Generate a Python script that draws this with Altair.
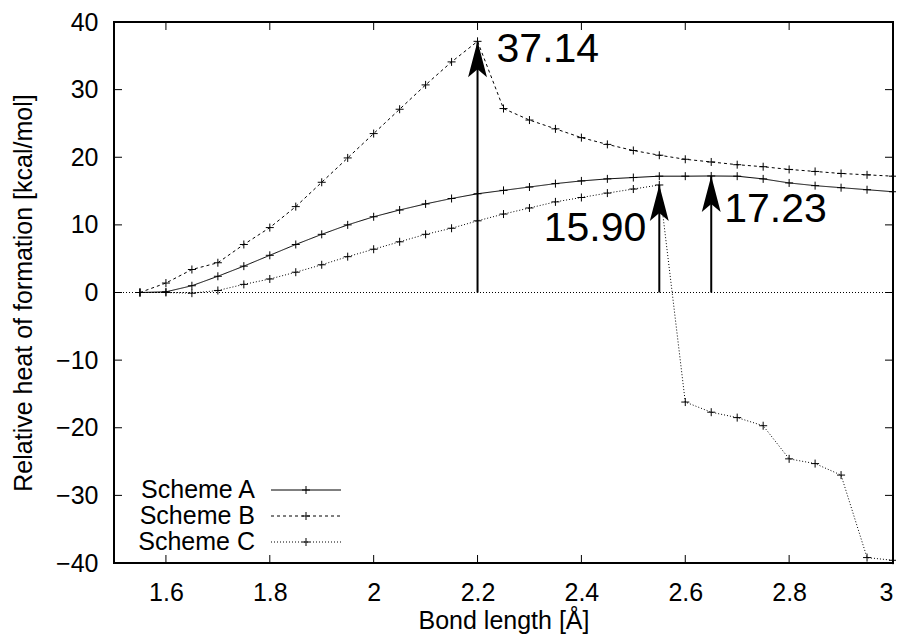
import altair as alt
import pandas as pd

# ---- data ----
bond = [1.55, 1.60, 1.65, 1.70, 1.75, 1.80, 1.85, 1.90, 1.95, 2.00,
        2.05, 2.10, 2.15, 2.20, 2.25, 2.30, 2.35, 2.40, 2.45, 2.50,
        2.55, 2.60, 2.65, 2.70, 2.75, 2.80, 2.85, 2.90, 2.95, 3.00]
scheme_a = [0.0, 0.1, 1.0, 2.4, 3.9, 5.5, 7.1, 8.6, 10.0, 11.2,
            12.2, 13.1, 13.9, 14.6, 15.1, 15.6, 16.1, 16.5, 16.8, 17.0,
            17.2, 17.2, 17.23, 17.2, 16.8, 16.2, 15.8, 15.5, 15.2, 14.9]
scheme_b = [0.0, 1.4, 3.4, 4.4, 7.1, 9.6, 12.7, 16.3, 19.9, 23.5,
            27.1, 30.7, 34.1, 37.14, 27.2, 25.5, 24.2, 22.9, 21.9, 21.0,
            20.3, 19.7, 19.3, 18.9, 18.6, 18.2, 17.9, 17.6, 17.4, 17.2]
scheme_c = [0.0, 0.0, -0.1, 0.3, 1.2, 2.0, 3.0, 4.1, 5.3, 6.4,
            7.5, 8.6, 9.5, 10.6, 11.6, 12.5, 13.4, 14.05, 14.7, 15.3,
            15.90, -16.2, -17.7, -18.5, -19.7, -24.6, -25.3, -27.0, -39.2, -39.6]
schemes = ["Scheme A", "Scheme B", "Scheme C"]

arrow_x = [2.20, 2.55, 2.65]
arrow_top = [37.14, 15.90, 17.23]

x_ticks = [1.6, 1.8, 2.0, 2.2, 2.4, 2.6, 2.8, 3.0]
y_ticks = [-40, -30, -20, -10, 0, 10, 20, 30, 40]

# ---- layout ----
W, H = 779, 541
FONT = "Liberation Sans"
TICK = 8
dashes = {"Scheme A": [1, 0], "Scheme B": [3, 3], "Scheme C": [1, 2]}

rows = []
for name, vals in zip(schemes, [scheme_a, scheme_b, scheme_c]):
    for xv, yv in zip(bond, vals):
        rows.append({"bond": xv, "energy": yv, "scheme": name})
df = pd.DataFrame(rows)
arrows = pd.DataFrame({"bond": arrow_x, "energy": arrow_top,
                       "label": [f"{v:.2f}" for v in arrow_top]})

xscale = alt.Scale(domain=[1.5, 3.0], nice=False, zero=False)
yscale = alt.Scale(domain=[-40, 40], nice=False, zero=False)

X = alt.X("bond:Q", scale=xscale, axis=alt.Axis(
    title="Bond length [Å]", values=x_ticks, format="~g", tickSize=0, labelPadding=17,
    grid=False, domain=False, titleY=65, titleBaseline="alphabetic"))
Y = alt.Y("energy:Q", scale=yscale, axis=alt.Axis(
    title="Relative heat of formation [kcal/mol]", values=y_ticks, tickSize=0,
    labelPadding=16, grid=False, domain=False, titleX=-91, titleY=H / 2,
    titleBaseline="middle", titleAngle=270))

plus = "M-1,0L1,0M0,-1L0,1"
head = "M0,0L-1.05,4L0,3.1L1.05,4Z"

lines = alt.Chart(df).mark_line(color="black", strokeWidth=1).encode(
    x=X, y=Y, detail="scheme:N",
    strokeDash=alt.StrokeDash("scheme:N", scale=alt.Scale(
        domain=schemes, range=[dashes[s] for s in schemes]), legend=None))
points = alt.Chart(df).mark_point(shape=plus, size=64, color="black",
                                  strokeWidth=1, opacity=1, filled=False).encode(
    x=alt.X("bond:Q", scale=xscale), y=alt.Y("energy:Q", scale=yscale))

zero = alt.Chart(pd.DataFrame({"z": [0]})).mark_rule(
    color="black", strokeWidth=1, strokeDash=[1, 2]).encode(
    y=alt.Y("z:Q", scale=yscale), x=alt.value(0), x2=alt.value(W))

shafts = alt.Chart(arrows).mark_rule(color="black", strokeWidth=2).encode(
    x=alt.X("bond:Q", scale=xscale), y=alt.Y("energy:Q", scale=yscale),
    y2=alt.datum(0))
heads = alt.Chart(arrows).mark_point(shape=head, size=324, filled=True,
                                     color="black", opacity=1, strokeWidth=0).encode(
    x=alt.X("bond:Q", scale=xscale), y=alt.Y("energy:Q", scale=yscale))

lab_props = [dict(align="left", dx=19, dy=21),
             dict(align="right", dx=-13, dy=56),
             dict(align="left", dx=13, dy=46)]
labels = []
for i, p in enumerate(lab_props):
    labels.append(alt.Chart(arrows.iloc[[i]]).mark_text(
        font=FONT, fontSize=41, baseline="alphabetic", color="black", **p).encode(
        x=alt.X("bond:Q", scale=xscale), y=alt.Y("energy:Q", scale=yscale),
        text="label:N"))

# inward ticks on all four sides
xt = pd.DataFrame({"bond": x_ticks})
yt = pd.DataFrame({"energy": y_ticks})
tk = dict(color="black", strokeWidth=1)
ticks = [
    alt.Chart(xt).mark_rule(**tk).encode(x=alt.X("bond:Q", scale=xscale),
                                         y=alt.value(H), y2=alt.value(H - TICK)),
    alt.Chart(xt).mark_rule(**tk).encode(x=alt.X("bond:Q", scale=xscale),
                                         y=alt.value(0), y2=alt.value(TICK)),
    alt.Chart(yt).mark_rule(**tk).encode(y=alt.Y("energy:Q", scale=yscale),
                                         x=alt.value(0), x2=alt.value(TICK)),
    alt.Chart(yt).mark_rule(**tk).encode(y=alt.Y("energy:Q", scale=yscale),
                                         x=alt.value(W), x2=alt.value(W - TICK)),
]

# manual key (labels left, samples right)
legend = []
for i, name in enumerate(schemes):
    ly = 468 + 26 * i
    ldf = pd.DataFrame({"s": [name]})
    legend.append(alt.Chart(ldf).mark_text(font=FONT, fontSize=25, align="right",
                                           baseline="middle", color="black").encode(
        text="s:N", x=alt.value(141), y=alt.value(ly)))
    legend.append(alt.Chart(ldf).mark_rule(color="black", strokeWidth=1,
                                           strokeDash=dashes[name]).encode(
        x=alt.value(157), x2=alt.value(227), y=alt.value(ly)))
    legend.append(alt.Chart(ldf).mark_point(shape=plus, size=64, color="black",
                                            strokeWidth=1, opacity=1).encode(
        x=alt.value(192), y=alt.value(ly)))

chart = alt.layer(zero, lines, points, shafts, heads, *labels, *ticks, *legend).properties(
    width=W, height=H,
    background="white",
    autosize=alt.AutoSizeParams(type="none"),
    padding={"left": 106, "top": 14, "right": 3, "bottom": 71},
).configure_view(stroke="black", strokeWidth=2).configure_axis(
    labelFont=FONT, labelFontSize=25, labelColor="black",
    titleFont=FONT, titleFontSize=25, titleColor="black", titleFontWeight="normal",
)

chart.save("out.html", embed_options={"renderer": "svg", "actions": False})
